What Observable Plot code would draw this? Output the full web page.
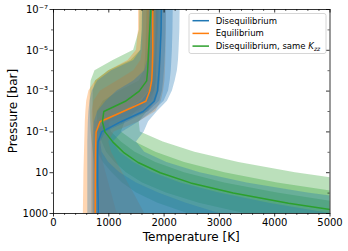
<!DOCTYPE html>
<html>
<head>
<meta charset="utf-8">
<script src="https://cdn.jsdelivr.net/npm/d3@7"></script>
<script src="https://cdn.jsdelivr.net/npm/@observablehq/plot@0.6"></script>
<style>
  html, body { margin: 0; padding: 0; background: #fff; }
  #chart { width: 348px; height: 251px; }
</style>
</head>
<body>
<div id="chart"></div>
<script>
// ---- Data ----
const pressure = [1e-7, 1e-6, 1e-5, 3.162e-5, 1e-4, 3.162e-4, 1e-3, 3.162e-3, 1e-2, 3.162e-2, 0.1, 0.3162, 1, 3.162, 10, 31.62, 100, 316.2, 1000];

// Disequilibrium (blue)
const diseqMed = [1950,1945,1930,1920,1910,1895,1880,1820,1620,1220,870,805,800,800,800,800,805,808,810];
const diseqLo1 = [1860,1855,1840,1830,1815,1790,1740,1600,1300,950,780,770,765,765,765,765,770,770,770];
const diseqHi1 = [2040,2035,2025,2015,2005,1990,1970,1920,1720,1350,950,850,880,1000,1200,1500,1900,2400,3000];
const diseqLo2 = [1735,1730,1715,1700,1650,1450,1150,950,800,740,720,715,715,715,715,715,715,715,715];
const diseqHi2 = [2165,2160,2150,2140,2130,2110,2080,2000,1800,1550,1250,1080,1200,1450,1800,2300,3000,3900,5000];
const diseqLo3 = [1610,1605,1580,1450,1050,800,700,660,640,630,625,620,620,620,620,620,620,620,620];
const diseqHi3 = [2290,2285,2270,2260,2240,2200,2150,2060,1880,1720,1640,1500,1650,2050,2650,3500,4600,6000,7600];

// Equilibrium (orange)
const equilMed = [1795,1795,1795,1790,1785,1775,1740,1670,1260,840,770,765,760,758,757,756,755,755,755];
const equilLo1 = [1700,1700,1695,1690,1680,1650,1550,1300,950,775,740,738,736,735,735,735,735,735,735];
const equilHi1 = [1880,1880,1875,1870,1865,1855,1830,1780,1550,1050,820,800,795,795,795,800,810,820,830];
const equilLo2 = [1620,1620,1610,1580,1450,1150,850,730,700,695,692,690,690,690,690,690,690,690,690];
const equilHi2 = [1960,1960,1955,1950,1945,1935,1910,1860,1720,1300,900,860,870,900,950,1000,1050,1100,1150];
const equilLo3 = [1537,1537,1500,1350,1000,760,640,600,585,575,570,565,560,555,550,548,545,542,540];
const equilHi3 = [2040,2040,2035,2030,2025,2015,1990,1950,1850,1550,1100,1000,1050,1150,1250,1350,1450,1550,1650];

// Disequilibrium, same Kzz (green)
const kzzMed = [1760,1740,1720,1712,1702,1685,1550,1300,910,885,930,1075,1265,1530,1930,2480,3250,4250,5500];
const kzzLo1 = [1690,1680,1670,1660,1640,1550,1200,900,790,800,820,880,959,1113,1318,1610,2040,2634,3450];
const kzzHi1 = [1830,1815,1795,1790,1785,1775,1720,1560,1250,1000,1046,1227,1477,1850,2370,3096,4050,5250,6700];
const kzzLo2 = [1610,1605,1580,1400,1000,760,720,715,715,720,740,760,800,900,1060,1246,1503,1890,2425];
const kzzHi2 = [1910,1895,1875,1870,1865,1860,1830,1720,1500,1300,1227,1477,1850,2370,3096,4050,5250,6700,8440];
const kzzLo3 = [1560,1555,1450,1080,750,680,665,665,665,670,680,700,720,740,760,780,800,820,840];
const kzzHi3 = [1980,1965,1945,1940,1935,1930,1910,1850,1700,1550,1570,1985,2557,3350,4375,5650,7180,9020,11500];

// Ticks
const xMajorTicks = [0, 1000, 2000, 3000, 4000, 5000];
const xMinorTicks = [200,400,600,800,1200,1400,1600,1800,2200,2400,2600,2800,3200,3400,3600,3800,4200,4400,4600,4800];
const yMajorTicks = [1e-7, 1e-5, 1e-3, 1e-1, 10, 1000];
const yMajorLabels = ["10⁻⁷", "10⁻⁵", "10⁻³", "10⁻¹", "10", "1000"];
const yMinorTicks = [1e-6, 1e-4, 1e-2, 1, 100];

const seriesNames = ["Disequilibrium", "Equilibrium", "Disequilibrium, same "];
const seriesColors = ["#1f77b4", "#ff7f0e", "#2ca02c"];

// ---- Build tables ----
const rows = (t) => pressure.map((p, i) => ({p, t: t[i]}));
const band = (lo, hi) => pressure.map((p, i) => ({p, lo: lo[i], hi: hi[i]}));

const series = [
  {color: seriesColors[0], med: diseqMed, bands: [[diseqLo3, diseqHi3], [diseqLo2, diseqHi2], [diseqLo1, diseqHi1]]},
  {color: seriesColors[1], med: equilMed, bands: [[equilLo3, equilHi3], [equilLo2, equilHi2], [equilLo1, equilHi1]]},
  {color: seriesColors[2], med: kzzMed, bands: [[kzzLo3, kzzHi3], [kzzLo2, kzzHi2], [kzzLo1, kzzHi1]]}
];

const alpha = 0.32;
const bandOrder = [2, 1, 0]; // green, orange, then blue on top
const marks = [];
for (const k of bandOrder) {
  const s = series[k];
  for (const [lo, hi] of s.bands) {
    marks.push(Plot.areaX(band(lo, hi), {y: "p", x1: "lo", x2: "hi", fill: s.color, fillOpacity: alpha, clip: true}));
  }
}
for (const s of series) {
  marks.push(Plot.line(rows(s.med), {x: "t", y: "p", stroke: s.color, strokeWidth: 1.5, clip: true}));
}

const marginLeft = 53, marginRight = 18.5, marginTop = 9, marginBottom = 38;
const W = 348, H = 251;
const frameH = H - marginTop - marginBottom;
const frameW = W - marginLeft - marginRight;

const labelMap = new Map(yMajorTicks.map((v, i) => [v, yMajorLabels[i]]));

marks.push(
  Plot.frame({stroke: "black", strokeWidth: 0.8}),
  Plot.axisX({anchor: "bottom", ticks: xMajorTicks, tickSize: 3.5, tickPadding: 2, tickFormat: d => String(d), strokeWidth: 0.8, fontSize: 10, label: null}),
  Plot.axisX({anchor: "bottom", ticks: xMinorTicks, tickSize: 2, tickFormat: () => "", strokeWidth: 0.6, label: null}),
  Plot.axisY({anchor: "left", ticks: yMajorTicks, tickSize: 3.5, tickPadding: 2, tickFormat: d => labelMap.get(d), strokeWidth: 0.8, fontSize: 10, label: null}),
  Plot.axisY({anchor: "left", ticks: yMinorTicks, tickSize: 2, tickFormat: () => "", strokeWidth: 0.6, label: null}),
  Plot.tickX(xMajorTicks, {x: d => d, insetBottom: frameH - 3.5, stroke: "black", strokeWidth: 0.8}),
  Plot.tickX(xMinorTicks, {x: d => d, insetBottom: frameH - 2, stroke: "black", strokeWidth: 0.6}),
  Plot.tickY(yMajorTicks, {y: d => d, insetLeft: frameW - 3.5, stroke: "black", strokeWidth: 0.8}),
  Plot.tickY(yMinorTicks, {y: d => d, insetLeft: frameW - 2, stroke: "black", strokeWidth: 0.6})
);

const chart = Plot.plot({
  width: W, height: H,
  marginLeft, marginRight, marginTop, marginBottom,
  style: {fontFamily: "DejaVu Sans", fontSize: "10px", color: "black", background: "white"},
  x: {type: "linear", domain: [0, 5000]},
  y: {type: "log", domain: [1e-7, 1000], reverse: true},
  marks
});
document.getElementById("chart").appendChild(chart);

// ---- Axis titles and legend ----
const svg = d3.select(chart);
svg.append("text")
  .attr("x", marginLeft + frameW / 2).attr("y", 240.5)
  .attr("text-anchor", "middle").attr("font-size", 12).attr("fill", "black")
  .attr("font-family", "DejaVu Sans")
  .text("Temperature [K]");
svg.append("text")
  .attr("transform", `translate(17,${marginTop + frameH / 2}) rotate(-90)`)
  .attr("text-anchor", "middle").attr("font-size", 12).attr("fill", "black")
  .attr("font-family", "DejaVu Sans")
  .text("Pressure [bar]");

const lg = svg.append("g").attr("font-family", "DejaVu Sans").attr("font-size", 8.5).attr("text-anchor", "start");
lg.append("rect").attr("x", 189).attr("y", 13.5).attr("width", 137).attr("height", 40)
  .attr("rx", 2).attr("fill", "white").attr("fill-opacity", 0.8)
  .attr("stroke", "#cccccc").attr("stroke-width", 0.8);
seriesNames.forEach((name, i) => {
  const cy = 20.7 + i * 12.7;
  lg.append("line").attr("x1", 192.5).attr("x2", 209).attr("y1", cy).attr("y2", cy)
    .attr("stroke", seriesColors[i]).attr("stroke-width", 1.5);
  const t = lg.append("text").attr("x", 215.7).attr("y", cy + 3).attr("fill", "black")
    .attr("text-anchor", "start").text(name);
  if (i === 2) {
    t.append("tspan").attr("font-style", "italic").text("K");
    t.append("tspan").attr("font-style", "italic").attr("font-size", 6).attr("dy", 1.8).text("zz");
  }
});
</script>
</body>
</html>
